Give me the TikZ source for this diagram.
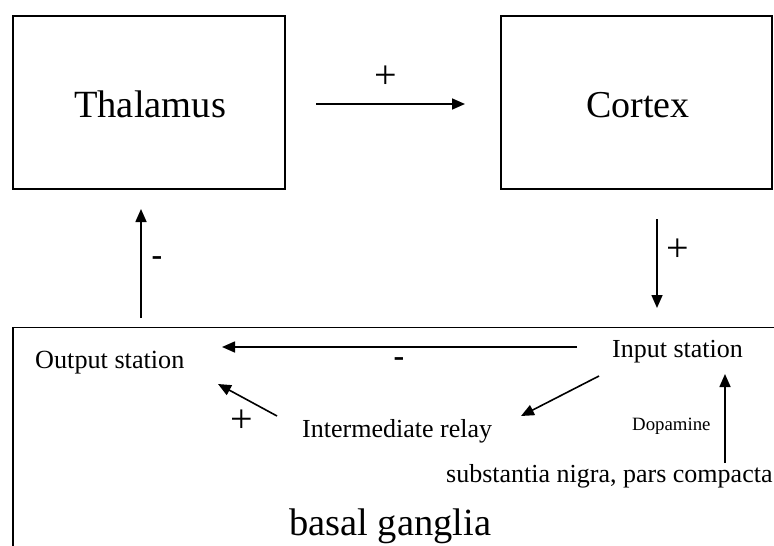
\documentclass[tikz,border=0pt]{standalone}
\usepackage{fontspec}
\setmainfont{Liberation Serif}
\usetikzlibrary{arrows.meta}
\tikzset{
  box/.style={draw, line width=1.5pt},
  arr/.style={line width=1.6pt, -{Triangle[length=13pt,width=11pt]}},
  lbl/.style={inner sep=0pt, anchor=base west},
  sgn/.style={inner sep=0pt, anchor=center},
}
\newcommand{\fs}[1]{\fontsize{#1}{#1}\selectfont}
\begin{document}
\begin{tikzpicture}[x=1pt,y=-1pt]
\useasboundingbox (0,0) rectangle (774,546);
% boxes
\draw[box] (13,16) rectangle (285,189);
\draw[box] (501,16) rectangle (772,189);
\draw[box] (13,550) -- (13,327.5) -- (778,327.5);
% texts
\node[lbl] (thal) at (74,117) {\fs{38.5}Thalamus};
\node[lbl] (cort) at (586,117) {\fs{38}Cortex};
\node[lbl] (out) at (35,368) {\fs{26.2}Output station};
\node[lbl] (inp) at (612,357) {\fs{26}Input station};
\node[lbl] (rel) at (302,437) {\fs{26}Intermediate relay};
\node[lbl] (dop) at (632,430) {\fs{18.8}Dopamine};
\node[lbl] (snc) at (446,482) {\fs{26}substantia nigra, pars compacta};
\node[lbl] (bg) at (289,535) {\fs{38.5}basal ganglia};
% signs
\node[sgn] (s1) at (386,77) {\fs{40}+};
\node[sgn] (s2) at (157,261) {\fs{32}\bfseries -};
\node[sgn] (s3) at (678,250) {\fs{40}+};
\node[sgn] (s4) at (399,362) {\fs{32}\bfseries -};
\node[sgn] (s5) at (242,421) {\fs{40}+};
% arrow endpoints
\coordinate (a1s) at (316,104); \coordinate (a1e) at (465,104);
\coordinate (a2s) at (141,318); \coordinate (a2e) at (141,209);
\coordinate (a3s) at (657,219); \coordinate (a3e) at (657,308);
\coordinate (a4s) at (577,347); \coordinate (a4e) at (222,347);
\coordinate (a5s) at (599,376); \coordinate (a5e) at (521,416);
\coordinate (a6s) at (277,416); \coordinate (a6e) at (218,384);
\coordinate (a7s) at (725,463); \coordinate (a7e) at (725,374);
\draw[arr] (a1s) -- (a1e);
\draw[arr] (a2s) -- (a2e);
\draw[arr] (a3s) -- (a3e);
\draw[arr] (a4s) -- (a4e);
\draw[arr] (a5s) -- (a5e);
\draw[arr] (a6s) -- (a6e);
\draw[arr] (a7s) -- (a7e);
\end{tikzpicture}
\end{document}
